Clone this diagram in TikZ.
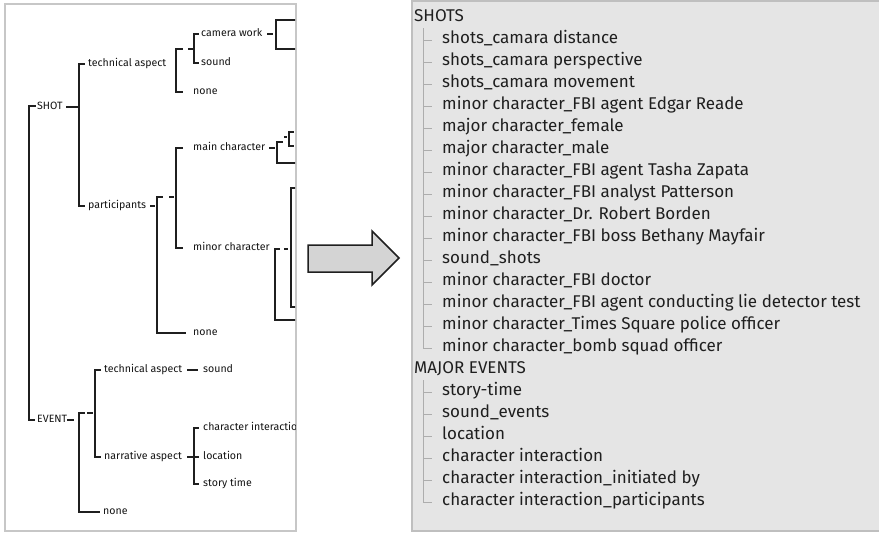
\documentclass[tikz,border=0pt]{standalone}
\usepackage{fontspec}
\setmainfont{Fira Sans}
\begin{document}
\begin{tikzpicture}[x=1pt,y=-1pt,
  tl/.style={anchor=west,inner sep=0pt,text height=0.7em,text depth=0.2em,font=\fontsize{10.6}{12}\selectfont,text=black!92},
  rl/.style={anchor=west,inner sep=0pt,text height=0.7em,text depth=0.2em,font=\fontsize{17}{20}\selectfont,text=black!88},
  br/.style={draw=black!88,line width=2pt,line join=miter,line cap=rect},
  gl/.style={draw=black!32,line width=1pt},
  panelL/.style={draw=black!22,line width=1.5pt,fill=white},
  panelR/.style={draw=black!25,line width=1.5pt,fill=black!10},
  bigarrow/.style={draw=black!88,line width=1.5pt,fill=black!17,line join=miter}]
\useasboundingbox (0,0) rectangle (879,533);
% panels
\path[panelL] (5,4) rectangle (296,531);
\path[panelR] (412,1) rectangle (881,531);
% arrow
\path[bigarrow] (308,245) -- (372,245) -- (372,231) -- (399,258) -- (372,285) -- (372,272) -- (308,272) -- cycle;
% left tree
\begin{scope}
\clip (5,4) rectangle (295,531);
\node[tl] (shot) at (37,107) {SHOT};
\node[tl] (event) at (37,420) {EVENT};
\node[tl] (sta) at (88,64) {technical aspect};
\node[tl] (spart) at (88,206) {participants};
\node[tl] (scam) at (201,34) {camera work};
\node[tl] (ssound) at (201,63) {sound};
\node[tl] (snone1) at (193,92) {none};
\node[tl] (smain) at (193,148) {main character};
\node[tl] (sminor) at (193,248) {minor character};
\node[tl] (snone2) at (193,333) {none};
\node[tl] (eta) at (104,370) {technical aspect};
\node[tl] (esound) at (203,370) {sound};
\node[tl] (enarr) at (104,457) {narrative aspect};
\node[tl] (eci) at (203,428) {character interaction};
\node[tl] (eloc) at (203,457) {location};
\node[tl] (est) at (203,484) {story time};
\node[tl] (enone) at (103,512) {none};
% main
\draw[br] (35,106) -- (29,106) -- (29,420) -- (34,420);
\draw[br] (67,107) -- (77,107);
\draw[br] (84,64) -- (79,64) -- (79,206) -- (84,206);
% technical aspect (shot)
\draw[br] (182,49) -- (176,49) -- (176,92) -- (182,92);
\draw[br] (189,49) -- (192,49);
\draw[br] (198,34) -- (194,34) -- (194,63) -- (198,63);
\draw[br] (268,34) -- (272,34);
\draw[br] (298,20) -- (276,20) -- (276,49) -- (298,49);
% participants
\draw[br] (151,206) -- (154,206);
\draw[br] (162,197) -- (157,197) -- (157,333) -- (185,333);
\draw[br] (170,197) -- (173,197);
\draw[br] (182,148) -- (176,148) -- (176,248) -- (182,248);
\draw[br] (270,148) -- (274,148);
\draw[br] (282,142) -- (277,142) -- (277,163) -- (298,163);
\draw[br] (285,137) -- (286,137);
\draw[br] (293,132) -- (289,132) -- (289,146) -- (293,146);
\draw[br] (279,249) -- (275,249) -- (275,320) -- (298,320);
\draw[br] (285,249) -- (287,249);
\draw[br] (298,188) -- (291,188) -- (291,307) -- (298,307);
% event
\draw[br] (68,420) -- (73,420);
\draw[br] (84,413) -- (79,413) -- (79,512) -- (99,512);
\draw[br] (88,413) -- (92,413);
\draw[br] (100,370) -- (95,370) -- (95,457) -- (100,457);
\draw[br] (188,370) -- (197,370);
\draw[br] (188,457) -- (198,457);
\draw[br] (198,428) -- (194,428) -- (194,484) -- (198,484);
\end{scope}
% right panel
\node[rl] (h1) at (414,19) {SHOTS};
\foreach \t [count=\k] in {shots\_camara distance,shots\_camara perspective,shots\_camara movement,minor character\_FBI agent Edgar Reade,major character\_female,major character\_male,minor character\_FBI agent Tasha Zapata,minor character\_FBI analyst Patterson,minor character\_Dr. Robert Borden,minor character\_FBI boss Bethany Mayfair,sound\_shots,minor character\_FBI doctor,minor character\_FBI agent conducting lie detector test,minor character\_Times Square police officer,minor character\_bomb squad officer}{
  \node[rl] (s\k) at (442,19+22*\k) {\t};
  \draw[gl] (423,18+22*\k) -- (432,18+22*\k);
}
\draw[gl] (423,28) -- (423,348);
\node[rl] (h2) at (414,371) {MAJOR EVENTS};
\foreach \t [count=\k] in {story-time,sound\_events,location,character interaction,character interaction\_initiated by,character interaction\_participants}{
  \node[rl] (e\k) at (442,371+22*\k) {\t};
  \draw[gl] (423,370+22*\k) -- (432,370+22*\k);
}
\draw[gl] (423,380) -- (423,502);
\end{tikzpicture}
\end{document}
